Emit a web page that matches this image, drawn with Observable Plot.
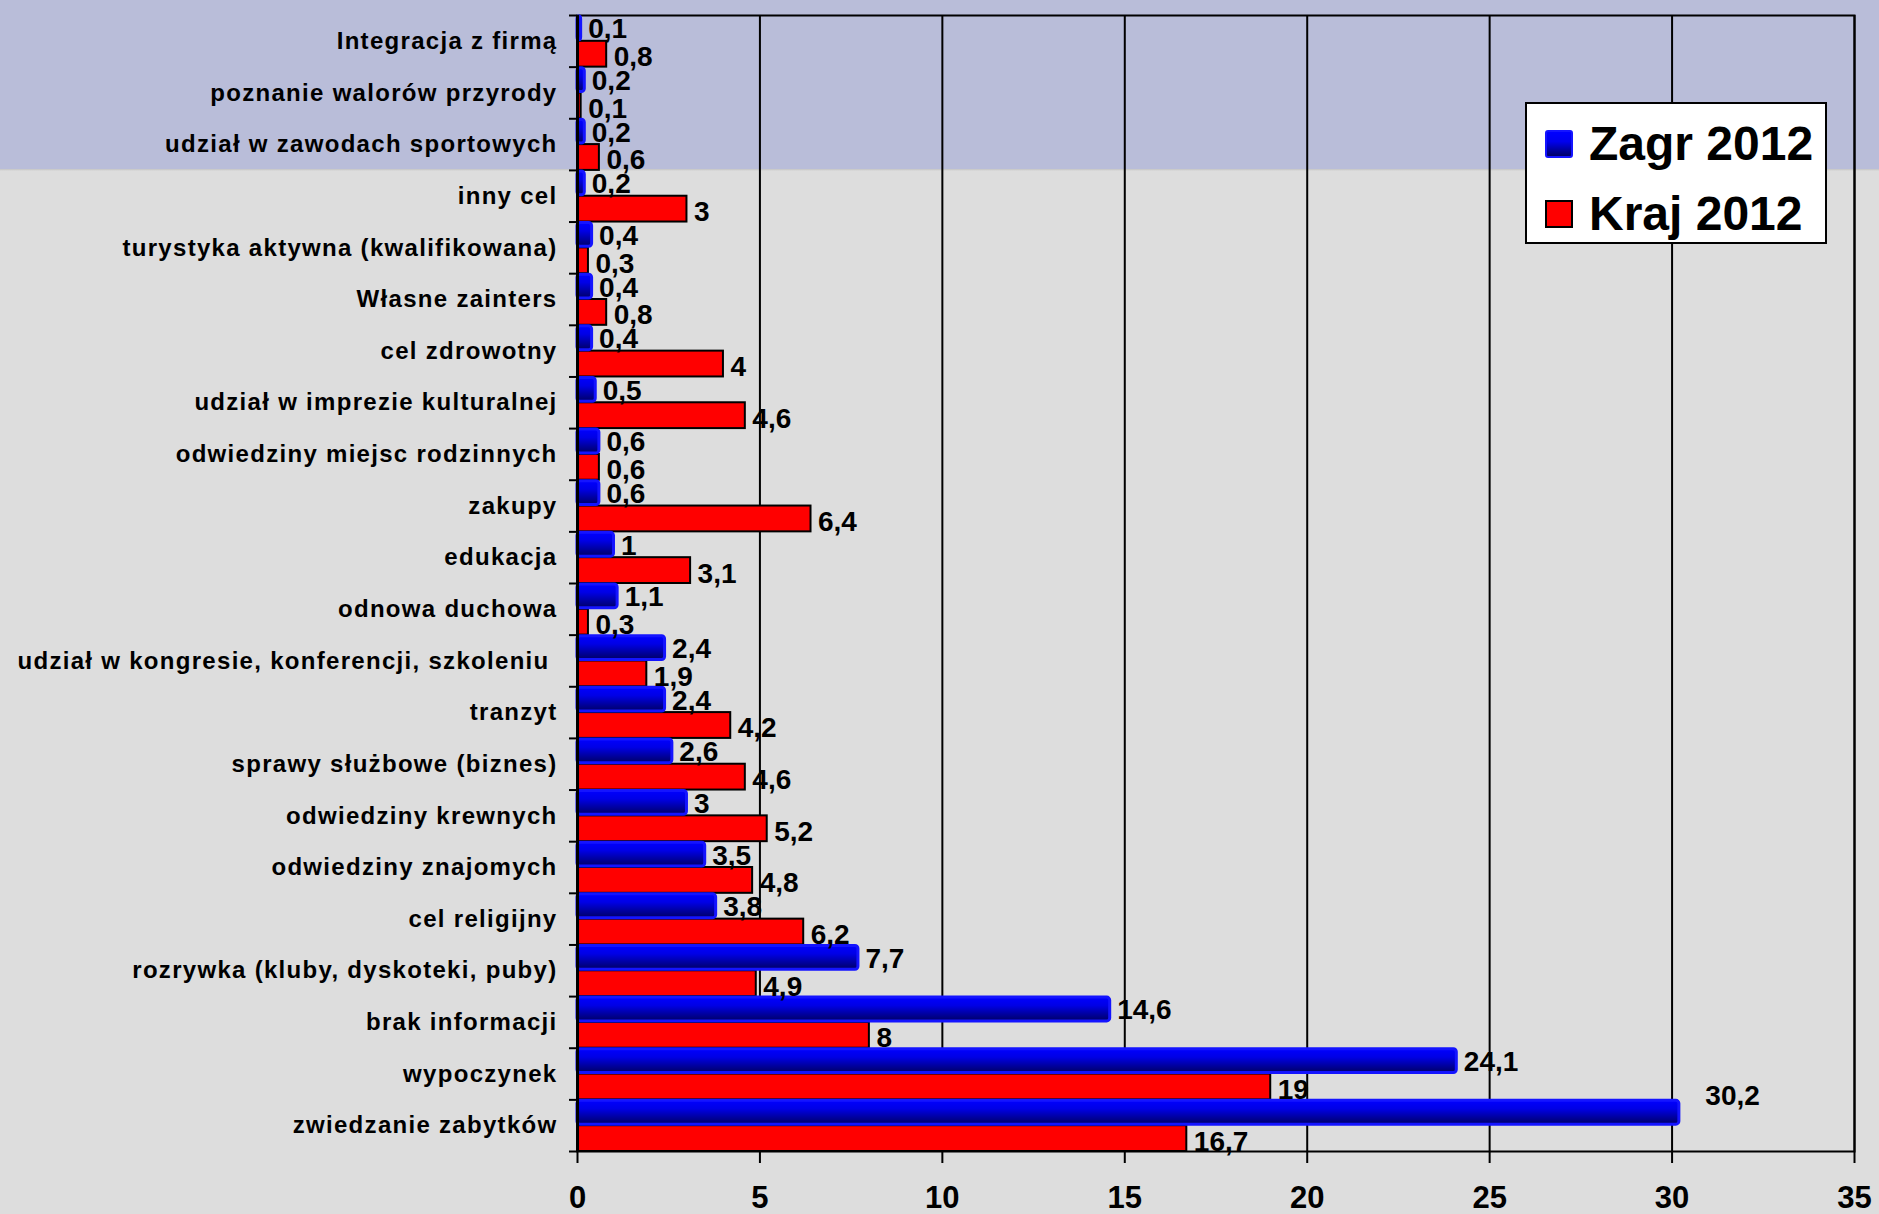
<!DOCTYPE html>
<html>
<head>
<meta charset="utf-8">
<script src="https://cdn.jsdelivr.net/npm/d3@7"></script>
<script src="https://cdn.jsdelivr.net/npm/@observablehq/plot@0.6"></script>
<style>
  html, body { margin: 0; padding: 0; }
  body {
    width: 1879px; height: 1214px; overflow: hidden;
    background: linear-gradient(to bottom, #b9bdd9 0px, #b9bdd9 169px, #c4c4c4 169px, #dddddd 171px, #dddddd 100%);
    font-family: "Liberation Sans", Arial, sans-serif;
  }
  #wrap { position: relative; width: 1879px; height: 1214px; }
  #legend {
    position: absolute; left: 1525px; top: 102px; width: 298px; height: 138px;
    background: #fff; border: 2px solid #000; box-sizing: content-box;
  }
  .li { position: absolute; left: 18px; display: flex; align-items: center; font-weight: bold; font-size: 48px; color: #000; }
  .sw { width: 28px; height: 28px; margin-right: 16px; box-sizing: border-box; }
  g.catlabels text { letter-spacing: 1.3px; }
</style>
</head>
<body>
<div id="wrap"></div>
<script>
const categories = [
  "Integracja z firmą",
  "poznanie walorów przyrody",
  "udział w zawodach sportowych",
  "inny cel",
  "turystyka aktywna (kwalifikowana)",
  "Własne zainters",
  "cel zdrowotny",
  "udział w imprezie kulturalnej",
  "odwiedziny miejsc rodzinnych",
  "zakupy",
  "edukacja",
  "odnowa duchowa",
  "udział w kongresie, konferencji, szkoleniu ",
  "tranzyt",
  "sprawy służbowe (biznes)",
  "odwiedziny krewnych",
  "odwiedziny znajomych",
  "cel religijny",
  "rozrywka (kluby, dyskoteki, puby)",
  "brak informacji",
  "wypoczynek",
  "zwiedzanie zabytków"
];
const zagr2012 = [0.1, 0.2, 0.2, 0.2, 0.4, 0.4, 0.4, 0.5, 0.6, 0.6, 1, 1.1, 2.4, 2.4, 2.6, 3, 3.5, 3.8, 7.7, 14.6, 24.1, 30.2];
const kraj2012 = [0.8, 0.1, 0.6, 3, 0.3, 0.8, 4, 4.6, 0.6, 6.4, 3.1, 0.3, 1.9, 4.2, 4.6, 5.2, 4.8, 6.2, 4.9, 8, 19, 16.7];
const seriesNames = ["Zagr 2012", "Kraj 2012"];
const xTicks = [0, 5, 10, 15, 20, 25, 30, 35];

const W = 1879, H = 1214, mT = 15, mB = 63, mL = 577, mR = 25;
const bw = (H - mT - mB) / (categories.length * 2);

const rows = [];
categories.forEach((c, i) => {
  rows.push({cat: c, series: seriesNames[0], key: c + "|Z", value: zagr2012[i]});
  rows.push({cat: c, series: seriesNames[1], key: c + "|K", value: kraj2012[i]});
});
const zRows = rows.filter(d => d.series === seriesNames[0]);
const kRows = rows.filter(d => d.series === seriesNames[1]);
const yDomain = rows.map(d => d.key);
const fmt = v => String(v).replace(".", ",");
const maxZ = d3.max(zagr2012);

const chart = Plot.plot({
  width: W, height: H,
  marginTop: mT, marginBottom: mB, marginLeft: mL, marginRight: mR,
  style: {background: "transparent", fontFamily: "'Liberation Sans', Arial, sans-serif", color: "#000"},
  x: {domain: [0, 35], axis: null, label: null},
  y: {domain: yDomain, padding: 0, axis: null, label: null},
  marks: [
    () => {
      const defs = d3.create("svg:defs");
      const g = defs.append("linearGradient").attr("id", "blueGrad")
        .attr("x1", 0).attr("y1", 0).attr("x2", 0).attr("y2", 1);
      g.append("stop").attr("offset", "0%").attr("stop-color", "#0000ff");
      g.append("stop").attr("offset", "35%").attr("stop-color", "#0000e6");
      g.append("stop").attr("offset", "100%").attr("stop-color", "#000066");
      return defs.node();
    },
    Plot.ruleX(xTicks, {stroke: "#000", strokeWidth: 2}),
    Plot.frame({stroke: "#000", strokeWidth: 2}),
    Plot.barX(kRows, {x: "value", y: "key", fill: "#ff0000", stroke: "#000", strokeWidth: 2}),
    Plot.barX(zRows, {x: "value", y: "key", fill: "url(#blueGrad)", stroke: "#1414ff", strokeWidth: 3, rx: 3, insetTop: 1, insetBottom: 1}),
    Plot.ruleX([0], {stroke: "#000", strokeWidth: 3}),
    Plot.axisX({ticks: xTicks, tickSize: 12, tickPadding: 22, tickFormat: d => d, label: null, fontSize: 31, fontWeight: "bold", strokeWidth: 2}),
    Plot.axisY({ticks: zRows.map(d => d.key), tickSize: 8, tickFormat: null, label: null, dy: -bw / 2, strokeWidth: 2}),
    Plot.axisY({ticks: [kRows[kRows.length - 1].key], tickSize: 8, tickFormat: null, label: null, dy: bw / 2, strokeWidth: 2}),
    Plot.text(zRows, {y: "key", text: "cat", frameAnchor: "left", textAnchor: "end", dx: -20, dy: bw / 2, fontSize: 24, fontWeight: "bold", fill: "#000", className: "catlabels"}),
    Plot.text(zRows.filter(d => d.value !== maxZ), {x: "value", y: "key", text: d => fmt(d.value), textAnchor: "start", dx: 7, dy: 1, fontSize: 28, fontWeight: "bold", fill: "#000"}),
    Plot.text(zRows.filter(d => d.value === maxZ), {x: "value", y: "key", text: d => fmt(d.value), textAnchor: "start", dx: 26, dy: -17, fontSize: 28, fontWeight: "bold", fill: "#000"}),
    Plot.text(kRows, {x: "value", y: "key", text: d => fmt(d.value), textAnchor: "start", dx: 7, dy: 3, fontSize: 28, fontWeight: "bold", fill: "#000"})
  ]
});
d3.select(chart).style("position", "absolute").style("left", 0).style("top", 0);
d3.select(chart).selectAll("g.catlabels text").attr("letter-spacing", "1.3px").style("letter-spacing", "1.3px");
const wrap = document.getElementById("wrap");
wrap.appendChild(chart);

const legend = document.createElement("div");
legend.id = "legend";
legend.innerHTML =
  `<div class="li" style="top:12px"><div class="sw" style="background:linear-gradient(#0000ff,#0000ee 40%,#000066);border:2px solid #1414ff;border-radius:3px"></div>${seriesNames[0]}</div>` +
  `<div class="li" style="top:82px"><div class="sw" style="background:#ff0000;border:2px solid #000"></div>${seriesNames[1]}</div>`;
wrap.appendChild(legend);
</script>
</body>
</html>
